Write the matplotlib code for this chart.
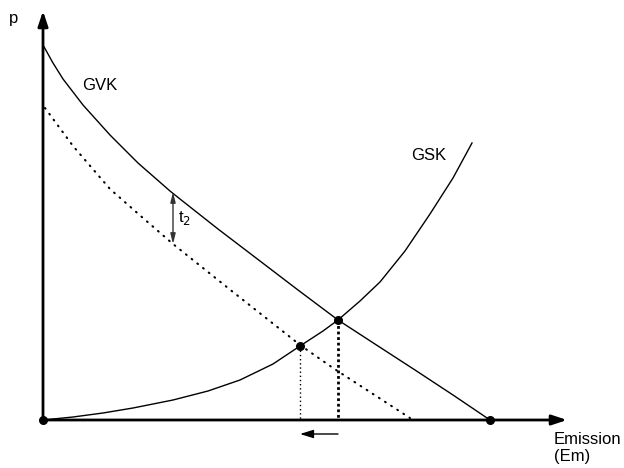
import matplotlib
matplotlib.use("Agg")
import matplotlib.pyplot as plt

plt.rcParams['font.family'] = ['Liberation Sans', 'DejaVu Sans']

# curve values (origin at the axis crossing)
gvk_x = [0, 10, 20, 40, 67, 95, 127, 137, 175, 217, 255, 295, 335, 372, 410, 447]
gvk_y = [375, 357, 341, 315, 285, 257, 229, 221, 191, 159, 130, 100, 74, 50, 25, 0]

gvk_t_x = [2, 30, 67, 100, 130, 190, 247, 257, 290, 330, 367]
gvk_t_y = [312, 274, 231, 202, 176, 128, 83, 75, 52, 26, 2]

gsk_x = [0, 30, 60, 90, 130, 165, 197, 230, 257, 280, 295, 317, 337, 362, 387, 410, 429]
gsk_y = [0, 3, 7, 12, 20, 29, 40, 56, 74, 89, 100, 119, 138, 169, 206, 242, 277]

eq_x = [295, 257]
eq_y = [100, 74]
end_x = [0, 447]
end_y = [0, 0]

fig = plt.figure(figsize=(6.24, 4.68), dpi=100)
ax = fig.add_axes([0, 0, 1, 1])
ax.set_xlim(-43, 581)
ax.set_ylim(-48, 420)
ax.axis('off')

# axes with arrows
ax.annotate('', xy=(0, 409), xytext=(0, 0),
            arrowprops=dict(arrowstyle='-|>,head_length=0.9,head_width=0.3', color='black', lw=2, shrinkA=0, shrinkB=0))
ax.annotate('', xy=(524, 0), xytext=(0, 0),
            arrowprops=dict(arrowstyle='-|>,head_length=0.9,head_width=0.3', color='black', lw=2, shrinkA=0, shrinkB=0))

ax.plot(gvk_x, gvk_y, color='black', lw=1)
ax.plot(gvk_t_x, gvk_t_y, color='black', lw=1.5, linestyle=(0, (0.4, 3.1)), dash_capstyle='round')
ax.plot(gsk_x, gsk_y, color='black', lw=1)

# drop lines
ax.plot([eq_x[0], eq_x[0]], [eq_y[0], 0], color='black', lw=2, linestyle=(0, (1, 1)))
ax.plot([eq_x[1], eq_x[1]], [eq_y[1], 0], color='black', lw=1, linestyle=(0, (1, 2)))

ax.scatter(eq_x + end_x, eq_y + end_y, s=30, color='black', zorder=5)

# tax wedge
ax.annotate('', xy=(130, 228), xytext=(130, 176),
            arrowprops=dict(arrowstyle='<|-|>,head_length=0.6,head_width=0.15', color='#333333', lw=1, shrinkA=0, shrinkB=0))
ax.text(135, 202, r't$_2$', fontsize=12, va='center', ha='left')

# shift arrow
ax.annotate('', xy=(257, -14), xytext=(295, -14),
            arrowprops=dict(arrowstyle='-|>,head_length=0.8,head_width=0.25', color='black', lw=1, shrinkA=0, shrinkB=0))

ax.text(-29, 402, 'p', fontsize=12, ha='center', va='center')
ax.text(57, 334, 'GVK', fontsize=12, ha='center', va='center')
ax.text(386, 265, 'GSK', fontsize=12, ha='center', va='center')
ax.text(511, -20, 'Emission', fontsize=12, ha='left', va='center')
ax.text(511, -36, '(Em)', fontsize=12, ha='left', va='center')

fig.savefig('out.png', dpi=100)
